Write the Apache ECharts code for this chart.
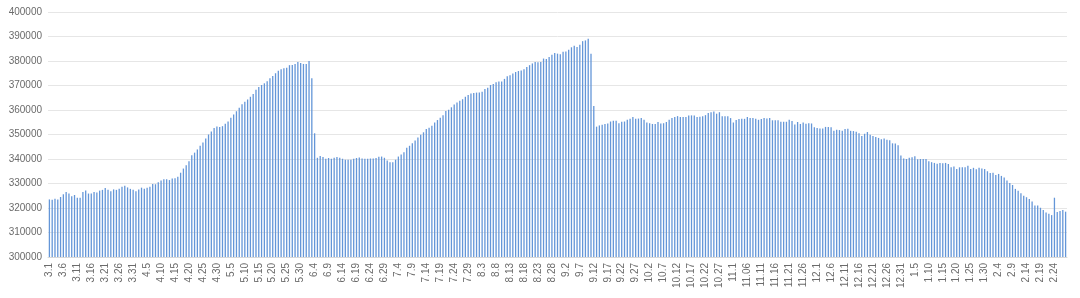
<!DOCTYPE html>
<html>
<head>
<meta charset="utf-8">
<script src="https://cdn.jsdelivr.net/npm/echarts@6/dist/echarts.min.js"></script>
<style>
  html,body{margin:0;padding:0;background:#fff;}
  #main{width:1080px;height:298px;}
</style>
</head>
<body>
<div id="main"></div>
<script>
// months shown on the axis, Mar -> Feb
const months=[3,4,5,6,7,8,9,10,11,12,1,2]
const monthDays=[31,30,31,30,31,31,30,31,30,31,31,28]
const labelFix={'11.6':'11.06'}

// daily values
const values=[
  323500,323400,323800,323500,324500,325600,326500,325900,324800,325300,
  324200,324200,326500,327100,325900,325900,326500,326300,327100,327400,
  328200,327500,326800,327600,327400,327900,328700,329100,328400,327800,
  327400,326800,327600,328300,327900,328300,328700,329800,329700,330500,
  331200,331700,331700,331400,332000,332100,332800,334400,336100,337500,
  339100,341500,342600,343900,345400,346700,348400,350000,351200,352700,
  353300,353100,353400,354400,355300,356800,358200,359500,360900,362300,
  363400,364300,365400,366500,368300,369400,370200,370900,371700,373000,
  373900,375000,376000,376600,377000,377200,378300,378400,378800,379600,
  379200,378800,378800,380000,373000,350500,340500,341200,340800,340100,
  340400,340100,340500,340800,340500,340100,339700,339700,339700,340100,
  340400,340600,340200,340100,340100,340200,340200,340400,340900,341000,
  340500,339400,338700,338700,339700,341000,341800,342800,344600,345400,
  346400,347600,348800,349900,350900,352200,352800,353600,354900,355900,
  356800,357900,359600,360100,361100,362200,363100,363800,364400,365400,
  366100,366700,366900,367100,367100,367400,368600,369100,370200,370600,
  371300,371600,371600,372700,373800,374200,374900,375500,375900,376100,
  376600,377600,378300,379000,379600,379500,379600,381000,380800,381600,
  382600,383300,383000,382800,383800,383900,384600,385600,386200,385700,
  386600,388100,388400,389100,383000,361600,353200,353700,354000,354300,
  354500,355300,355600,355600,354600,355200,355300,356000,356400,357100,
  356400,356500,356700,356000,354900,354600,354300,354300,355100,354500,
  354600,355100,356000,356700,357100,357500,357100,357100,357100,357800,
  357800,357800,357100,357200,357400,357900,358800,359100,359400,358500,
  359100,357400,357500,357400,356700,354900,355900,356300,356400,356400,
  357100,356700,356700,356400,356000,356300,356700,356500,356700,355800,
  355800,355800,355200,355200,355200,356000,355500,354100,355100,354300,
  354900,354400,354600,354500,353000,352700,352400,352400,353100,353100,
  353000,351500,351900,351800,351500,352200,352300,351500,351400,351100,
  350500,349400,350300,351000,349900,349400,349000,348600,348100,348400,
  347900,347700,346400,346300,345600,341400,340200,340000,340500,340700,
  341100,339900,340000,340000,340000,339100,338700,338400,338100,338400,
  338300,338400,338000,336600,336900,335900,336600,336600,336600,337200,
  335900,336400,335800,336400,336100,335900,335000,334300,334400,333500,
  333900,333100,332500,331200,330200,329400,327800,327000,326000,325000,
  324400,323700,322700,321000,321000,320100,319200,318200,317700,317100,
  324200,318400,318800,319200,318500
]

const days=[]
months.forEach((m,i)=>{
  for(let d=1;d<=monthDays[i];d++){
    const s=m+'.'+d
    days.push(labelFix[s]||s)
  }
})

const myChart=echarts.init(document.querySelector('#main'))
const option={
  animation:false,
  grid:{left:48,right:13,top:12,bottom:41},
  xAxis:{
    type:'category',
    data:days,
    axisLine:{lineStyle:{color:'#d9d9d9'}},
    axisTick:{show:false},
    axisLabel:{
      interval:4,
      rotate:90,
      color:'#6b6b6b',
      fontSize:10,
      fontFamily:'Liberation Sans',
      margin:6
    }
  },
  yAxis:{
    type:'value',
    min:300000,
    max:400000,
    interval:10000,
    axisLine:{show:false},
    axisTick:{show:false},
    splitLine:{lineStyle:{color:'#e6e6e6'}},
    axisLabel:{
      color:'#6b6b6b',
      fontSize:10,
      fontFamily:'Liberation Sans',
      margin:6,
      formatter:v=>String(v)
    }
  },
  series:[{
    type:'bar',
    data:values,
    barWidth:1.3,
    itemStyle:{color:'#6496d8'}
  }]
}
myChart.setOption(option)
</script>
</body>
</html>
